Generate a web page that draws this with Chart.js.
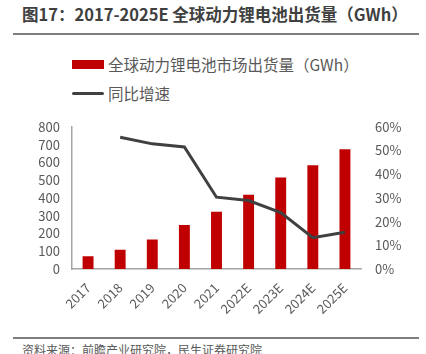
<!DOCTYPE html>
<html>
<head>
<meta charset="utf-8">
<script src="https://cdn.jsdelivr.net/npm/chart.js"></script>
<style>
  body { margin: 0; background: #fff; font-family: "Noto Sans CJK SC", "Noto Sans", sans-serif; }
  #wrap { position: relative; width: 426px; height: 354px; overflow: hidden; }
  #title { position: absolute; left: 22px; top: 2px; font-size: 16.5px; font-weight: bold; color: #404040; white-space: nowrap; }
  .rule { position: absolute; left: 13px; width: 406px; height: 2px; background: #7f7f7f; }
  .leg { position: absolute; left: 72px; font-size: 15.5px; color: #595959; white-space: nowrap; display: flex; align-items: center; }
  .leg span.box { display: inline-block; width: 32px; height: 9px; background: #c00000; margin-right: 4px; }
  .leg span.ln { display: inline-block; width: 32px; height: 3px; background: #404040; border-radius: 2px; margin-right: 4px; }
  #src { position: absolute; left: 22px; top: 341px; font-size: 12px; color: #595959; white-space: nowrap; }
  #cv { position: absolute; left: 0; top: 105px; }
</style>
</head>
<body>
<div id="wrap">
  <div id="title">图17：2017-2025E 全球动力锂电池出货量（GWh）</div>
  <div class="rule" style="top:33px"></div>
  <div class="leg" style="top:53px"><span class="box"></span>全球动力锂电池市场出货量（GWh）</div>
  <div class="leg" style="top:82px"><span class="ln"></span>同比增速</div>
  <canvas id="cv" width="426" height="224"></canvas>
  <div class="rule" style="top:337px"></div>
  <div id="src">资料来源：前瞻产业研究院，民生证券研究院</div>
</div>
<script>
var years = ['2017', '2018', '2019', '2020', '2021', '2022E', '2023E', '2024E', '2025E'];
var shipments = [72, 109, 166, 248, 322, 418, 515, 584, 674];
var growth = [null, 55.6, 52.8, 51.5, 30.3, 28.9, 23.8, 13.2, 15.5];

var tickFont = { family: '"Noto Sans CJK SC", "Noto Sans", sans-serif', size: 13 };
var tickColor = '#595959';

new Chart(document.getElementById('cv'), {
  data: {
    labels: years,
    datasets: [
      {
        type: 'line',
        label: '同比增速',
        data: growth,
        yAxisID: 'y1',
        borderColor: '#404040',
        borderWidth: 3,
        pointRadius: 0,
        tension: 0,
        order: 0
      },
      {
        type: 'bar',
        label: '全球动力锂电池市场出货量（GWh）',
        data: shipments,
        yAxisID: 'y',
        backgroundColor: '#c00000',
        barPercentage: 0.68,
        categoryPercentage: 0.5,
        order: 1
      }
    ]
  },
  options: {
    responsive: false,
    animation: false,
    layout: { padding: { top: 16, left: 0, right: 0, bottom: 0 } },
    plugins: { legend: { display: false }, tooltip: { enabled: false } },
    scales: {
      x: {
        grid: { display: false, drawTicks: false },
        border: { color: '#a6a6a6', width: 1.5 },
        ticks: { color: tickColor, font: tickFont, minRotation: 45, maxRotation: 45, padding: 11, autoSkip: false },
        afterFit: function(s) { s.height = 60; }
      },
      y: {
        position: 'left',
        min: 0, max: 800,
        grid: { display: false, drawTicks: false },
        border: { color: '#a6a6a6', width: 1.5 },
        ticks: { stepSize: 100, color: tickColor, font: tickFont, padding: 12, autoSkip: false },
        afterFit: function(s) { s.width = 72; }
      },
      y1: {
        position: 'right',
        min: 0, max: 60,
        grid: { display: false, drawTicks: false },
        border: { display: false },
        ticks: { stepSize: 10, color: tickColor, font: tickFont, padding: 14, autoSkip: false,
          callback: function(v) { return v + '%'; } },
        afterFit: function(s) { s.width = 65; }
      }
    }
  }
});
</script>
</body>
</html>
